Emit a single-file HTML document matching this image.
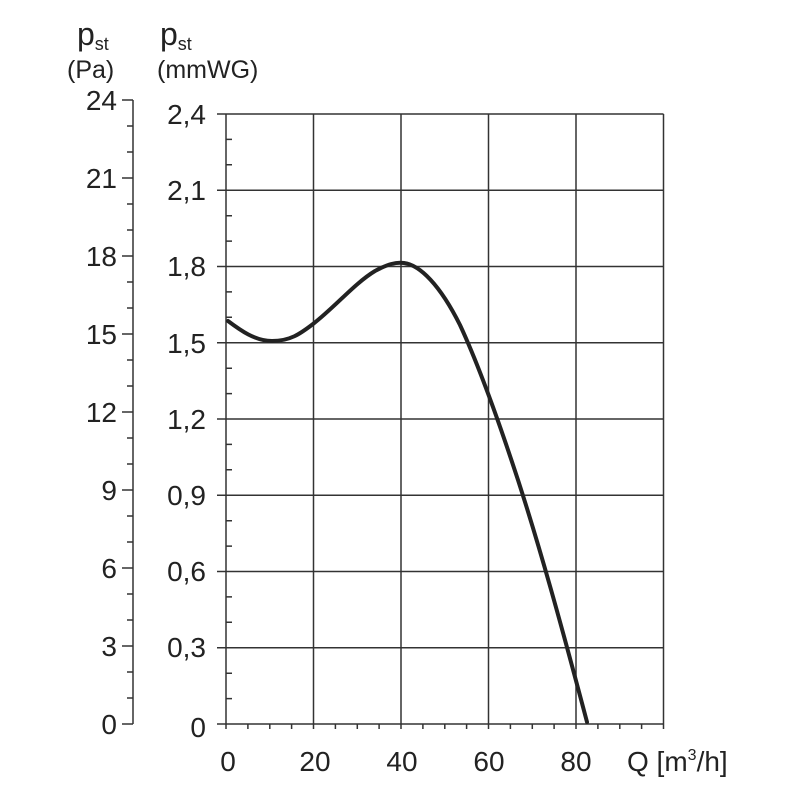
<!DOCTYPE html>
<html><head><meta charset="utf-8"><style>
html,body{margin:0;padding:0;background:#fff;}
svg text{font-family:"Liberation Sans",Arial,sans-serif;fill:#222;}
</style></head><body>
<svg width="800" height="800" viewBox="0 0 800 800" xmlns="http://www.w3.org/2000/svg">
<g stroke="#333" stroke-width="1.5" fill="none">
<line x1="133" y1="100" x2="133" y2="724"/>
<path d="M122 100H133M122 178H133M122 256H133M122 334H133M122 412H133M122 490H133M122 568H133M122 646H133M122 724H133"/>
<path d="M127 126H133M127 152H133M127 204H133M127 230H133M127 282H133M127 308H133M127 360H133M127 386H133M127 438H133M127 464H133M127 516H133M127 542H133M127 594H133M127 620H133M127 672H133M127 698H133"/>
<path d="M217 114H663.5M217 190.25H663.5M217 266.5H663.5M217 342.75H663.5M217 419H663.5M217 495.25H663.5M217 571.5H663.5M217 647.75H663.5M217 724H663.5"/>
<path d="M226 114V729M313.5 114V729M401 114V729M488.5 114V729M576 114V729M663.5 114V729"/>
<path d="M226 139.4H232M226 164.8H232M226 215.7H232M226 241.1H232M226 291.9H232M226 317.3H232M226 368.2H232M226 393.6H232M226 444.4H232M226 469.8H232M226 520.7H232M226 546.1H232M226 596.9H232M226 622.3H232M226 673.2H232M226 698.6H232"/>
<path d="M247.9 724V729M269.8 724V729M291.6 724V729M335.4 724V729M357.3 724V729M379.1 724V729M422.9 724V729M444.8 724V729M466.6 724V729M510.4 724V729M532.3 724V729M554.1 724V729M597.9 724V729M619.8 724V729M641.6 724V729"/>
</g>
<path d="M228 321 C240 330,255 341,272 341 C290 341,300 334,313 324 C335 307,355 283,375 271 C388 264,396 262,404 263 C420 265,440 285,460 325 C480 368,500 425,518 480 C540 548,560 620,587 722" stroke="#222" stroke-width="4" fill="none" stroke-linecap="round"/>
<g font-size="28" text-anchor="end">
<text x="117" y="110">24</text><text x="117" y="188">21</text><text x="117" y="266">18</text><text x="117" y="344">15</text><text x="117" y="422">12</text><text x="117" y="500">9</text><text x="117" y="578">6</text><text x="117" y="656">3</text><text x="117" y="734">0</text>
<text x="206" y="124">2,4</text><text x="206" y="200">2,1</text><text x="206" y="276">1,8</text><text x="206" y="353">1,5</text><text x="206" y="429">1,2</text><text x="206" y="505">0,9</text><text x="206" y="581">0,6</text><text x="206" y="657">0,3</text><text x="206" y="737">0</text>
</g>
<g font-size="28" text-anchor="middle">
<text x="228" y="771">0</text><text x="315" y="771">20</text><text x="402" y="771">40</text><text x="489" y="771">60</text><text x="576" y="771">80</text>
</g>
<text x="627" y="771" font-size="28">Q [m<tspan font-size="16" dy="-11">3</tspan><tspan dy="11">/h]</tspan></text>
<text x="77" y="45" font-size="32">p<tspan font-size="18" dy="5">st</tspan></text>
<text x="67" y="78" font-size="25">(Pa)</text>
<text x="160" y="45" font-size="32">p<tspan font-size="18" dy="5">st</tspan></text>
<text x="157" y="78" font-size="25">(mmWG)</text>
</svg>
</body></html>
